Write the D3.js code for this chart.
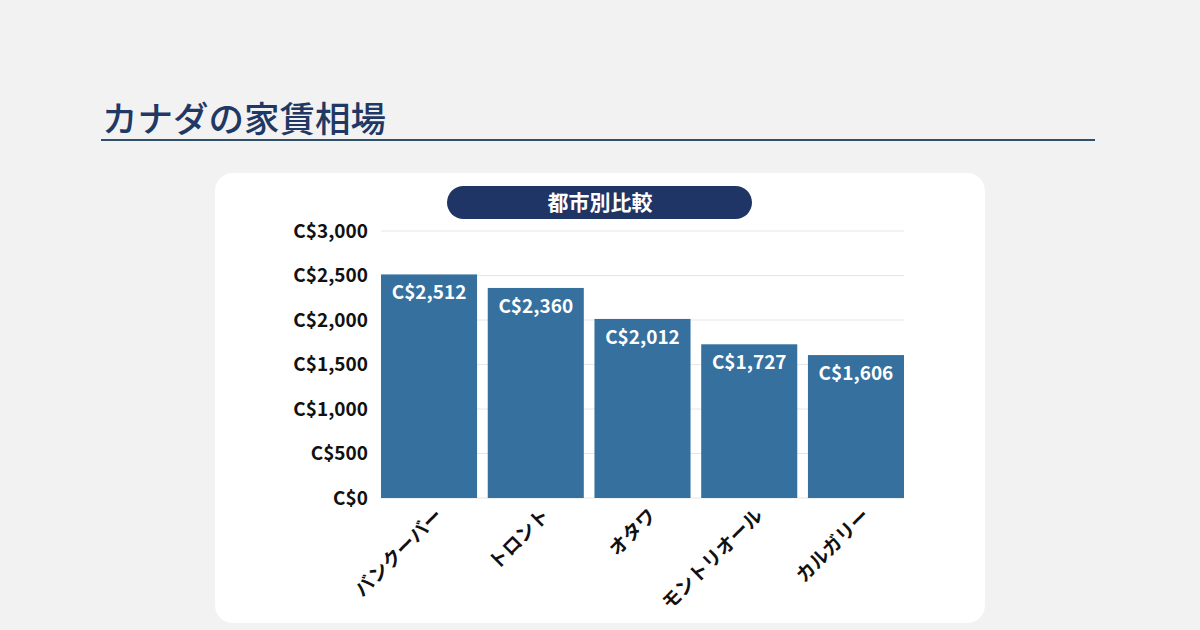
<!DOCTYPE html>
<html>
<head>
<meta charset="utf-8">
<script src="https://cdn.jsdelivr.net/npm/d3@7"></script>
<style>
  html, body { margin: 0; padding: 0; background: #f2f2f2; }
  body { width: 1200px; height: 630px; overflow: hidden; font-family: "Noto Sans CJK JP", "Noto Sans", sans-serif; }
</style>
</head>
<body>
<div id="chart"></div>
<script>
const cities = ["バンクーバー", "トロント", "オタワ", "モントリオール", "カルガリー"];
const rents = [2512, 2360, 2012, 1727, 1606];
const yTicks = [0, 500, 1000, 1500, 2000, 2500, 3000];
const pageTitle = "カナダの家賃相場";
const chartTitle = "都市別比較";

const fmt = v => "C$" + d3.format(",")(v);

const svg = d3.select("#chart").append("svg")
  .attr("width", 1200)
  .attr("height", 630);

// Page title + rule
svg.append("text")
  .attr("x", 102).attr("y", 132)
  .style("font-size", "35.5px").style("font-weight", 500)
  .style("fill", "#1f3864")
  .text(pageTitle);
svg.append("line")
  .attr("x1", 101).attr("x2", 1095)
  .attr("y1", 140).attr("y2", 140)
  .style("stroke", "#2f5068").style("stroke-width", 2);

// Card
svg.append("rect")
  .attr("x", 215).attr("y", 173)
  .attr("width", 770).attr("height", 450)
  .attr("rx", 18)
  .style("fill", "#ffffff");

// Pill title
svg.append("rect")
  .attr("x", 447).attr("y", 186)
  .attr("width", 305).attr("height", 33)
  .attr("rx", 16.5)
  .style("fill", "#1f3566");
svg.append("text")
  .attr("x", 600).attr("y", 210)
  .attr("text-anchor", "middle")
  .style("font-size", "21px").style("font-weight", 700)
  .style("fill", "#ffffff")
  .text(chartTitle);

// Scales
const x = d3.scaleBand().domain(cities).range([381, 904]).paddingInner(0.1).paddingOuter(0);
const y = d3.scaleLinear().domain([0, 3000]).range([498, 231]);

// Grid
svg.append("g")
  .selectAll("line")
  .data(yTicks)
  .join("line")
  .attr("x1", 381).attr("x2", 904)
  .attr("y1", d => y(d)).attr("y2", d => y(d))
  .style("stroke", "#e6e6e6").style("stroke-width", 1);

// Y axis
const yAxis = svg.append("g")
  .attr("transform", "translate(381,0)")
  .call(d3.axisLeft(y).tickValues(yTicks).tickFormat(fmt).tickSize(0).tickPadding(13));
yAxis.select(".domain").remove();
yAxis.selectAll("text")
  .style("font-family", "'Noto Sans CJK JP', sans-serif")
  .style("font-size", "19px").style("font-weight", 700)
  .style("fill", "#111");

// Bars
svg.append("g")
  .selectAll("rect")
  .data(cities)
  .join("rect")
  .attr("x", d => x(d))
  .attr("y", (d, i) => y(rents[i]))
  .attr("width", x.bandwidth())
  .attr("height", (d, i) => y(0) - y(rents[i]))
  .style("fill", "#35709f");

// Value labels
svg.append("g")
  .selectAll("text")
  .data(cities)
  .join("text")
  .attr("x", d => x(d) + x.bandwidth() / 2)
  .attr("y", (d, i) => y(rents[i]) + 25)
  .attr("text-anchor", "middle")
  .style("font-family", "'Noto Sans CJK JP', sans-serif")
  .style("font-size", "19px").style("font-weight", 700)
  .style("fill", "#ffffff")
  .text((d, i) => fmt(rents[i]));

// X labels
svg.append("g")
  .selectAll("text")
  .data(cities)
  .join("text")
  .attr("transform", d => `translate(${x(d) + x.bandwidth() / 2 + 10},${512}) rotate(-45)`)
  .attr("text-anchor", "end")
  .attr("dy", "0.35em")
  .style("font-size", "19px").style("font-weight", 700)
  .style("fill", "#111")
  .text(d => d);
</script>
</body>
</html>
